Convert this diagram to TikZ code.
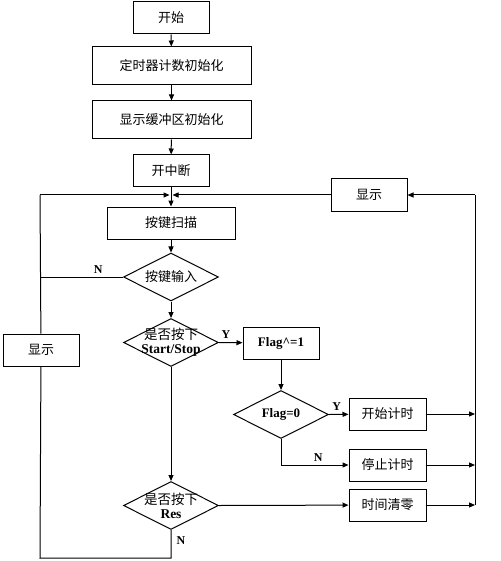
\documentclass[tikz,border=0pt]{standalone}
\usepackage{fontspec}
\setmainfont{Liberation Serif}
\newfontfamily\cjk{Noto Sans CJK SC}
\usetikzlibrary{shapes.geometric, arrows.meta}

\begin{document}
\begin{tikzpicture}[x=1pt,y=-1pt]
			\tikzstyle{box} = [rectangle,fill=white,draw=black,line width=1pt,minimum height=32pt,font=\cjk\fontsize{13}{14}\selectfont]
			\tikzstyle{dia} = [diamond,fill=white,draw=black,line width=1pt,minimum width=95pt,minimum height=48pt,inner sep=0pt]
			\tikzstyle{edge} = [line width=1pt]
			\tikzstyle{arrow} = [line width=1pt,-{Triangle[length=6pt,width=5pt]}]
			\tikzstyle{yn} = [font=\bfseries\fontsize{12}{14}\selectfont]
			\useasboundingbox (0,0) rectangle (500,561);
			\node[box,minimum width=76pt] (n1) at (171,18) {开始};
			\node[box,minimum width=159pt,minimum height=38pt] (n2) at (171.5,66) {定时器计数初始化};
			\node[box,minimum width=159pt,minimum height=38pt] (n3) at (171.5,120) {显示缓冲区初始化};
			\node[box,minimum width=76pt] (n4) at (171,171) {开中断};
			\node[box,minimum width=128pt] (n5) at (171,223) {按键扫描};
			\node[box,minimum width=76pt] (disp1) at (369,195) {显示};
			\node[box,minimum width=76pt] (disp2) at (41,350) {显示};
			\node[dia,label={[font=\cjk\fontsize{13}{14}\selectfont]center:按键输入}] (d1) at (171,277) {};
			\node[dia,label={[align=center,font=\fontsize{13.5}{14}\selectfont]center:{\cjk 是否按下}\\\textbf{Start/Stop}}] (d2) at (171,342.5) {};
			\node[box,minimum width=76pt,font=\bfseries\fontsize{13}{14}\selectfont] (f1) at (281,343) {Flag\^{}=1};
			\node[dia,label={[font=\bfseries\fontsize{13}{14}\selectfont]center:Flag=0}] (d4) at (281,414.5) {};
			\node[box,minimum width=77pt] (t1) at (387.5,414) {开始计时};
			\node[box,minimum width=77pt] (t2) at (387.5,465) {停止计时};
			\node[box,minimum width=77pt] (t3) at (387.5,505) {时间清零};
			\node[dia,label={[align=center,font=\fontsize{13.5}{14}\selectfont]center:{\cjk 是否按下}\\\textbf{Res}}] (d3) at (171,505.5) {};
			\coordinate (j) at (171,195);
			\coordinate (lt) at (40,195);
			\coordinate (ln) at (40,277);
			\coordinate (lb) at (40,558);
			\coordinate (mb) at (171,558);
			\coordinate (fn) at (281,465);
			\coordinate (r1) at (475,414);
			\coordinate (r2) at (475,465);
			\coordinate (r3) at (475,505);
			\coordinate (rt) at (475,195);
			\draw[arrow] (n1)--(n2);
			\draw[arrow] (n2)--(n3);
			\draw[arrow] (n3)--(n4);
			\draw[edge] (n4)--(j);
			\draw[arrow] (j)--(n5);
			\draw[arrow] (lt)--([xshift=-1.5pt]j);
			\draw[arrow] (disp1)--([xshift=1.5pt]j);
			\draw[arrow] (n5)--(d1);
			\draw[edge] (d1.west)--(ln) node[yn,pos=0.3,above] {N};
			\draw[edge] (lt)--(disp2);
			\draw[edge] (disp2)--(lb)--(mb)--(d3.south);
			\node[yn] (nres) at (181,541) {N};
			\draw[arrow] (d1)--(d2);
			\draw[arrow] (d2.east)--(f1) node[yn,pos=0.3,above] {Y};
			\draw[arrow] (f1)--(d4);
			\draw[arrow] (d4.east)--(t1) node[yn,pos=0.4,above] {Y};
			\draw[arrow] (d4.south)--(fn)--(t2) node[yn,pos=0.55,above] {N};
			\draw[arrow] (d2)--(d3);
			\draw[arrow] (d3.east)--(t3);
			\draw[arrow] (t1)--(r1);
			\draw[arrow] (t2)--(r2);
			\draw[arrow] (t3)--(r3);
			\draw[edge] (r3)--(rt);
			\draw[arrow] (rt)--(disp1);
\end{tikzpicture}
\end{document}
